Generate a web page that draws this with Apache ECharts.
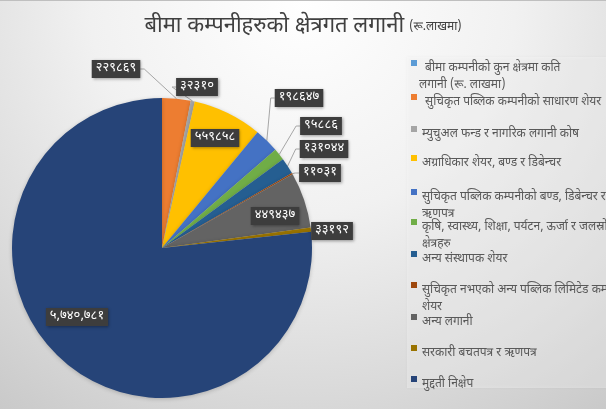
<!DOCTYPE html>
<html><head><meta charset="utf-8">
<script src="https://cdn.jsdelivr.net/npm/echarts@6/dist/echarts.min.js"></script>
<style>html,body{margin:0;padding:0;background:#fff;}#c{width:606px;height:409px;}</style>
</head><body><div id="c"></div>
<script>
// ---- data ----
const categories = [
  'बीमा कम्पनीको कुन क्षेत्रमा कति\nलगानी (रू. लाखमा)',
  'सुचिकृत पब्लिक कम्पनीको साधारण शेयर',
  'म्युचुअल फन्ड र नागरिक लगानी कोष',
  'अग्राधिकार शेयर, बण्ड र डिबेन्चर',
  'सुचिकृत पब्लिक कम्पनीको बण्ड, डिबेन्चर र\nऋणपत्र',
  'कृषि, स्वास्थ्य, शिक्षा, पर्यटन, ऊर्जा र जलस्रोत\nक्षेत्रहरु',
  'अन्य संस्थापक शेयर',
  'सुचिकृत नभएको अन्य पब्लिक लिमिटेड कम्पनीको\nशेयर',
  'अन्य लगानी',
  'सरकारी बचतपत्र र ऋणपत्र',
  'मुद्दती निक्षेप'
];
const values = [0, 229869, 32310, 559858, 198647, 95886, 131044, 11031, 449437, 33192, 5740781];
const titleMain = 'बीमा कम्पनीहरुको क्षेत्रगत लगानी';
const titleUnit = '(रू.लाखमा)';

// ---- styles / layout ----
const colors = ['#5B9BD5','#ED7D31','#A5A5A5','#FFC000','#4472C4','#70AD47','#255E91','#9E480E','#636363','#997300','#264478'];
const insideLabels = [3, 8, 10];
const labelAt = [null,[116,69],[197,87],[215,138],[299,98],[321,126],[324,149],[320,173],[275,216],[332,231],[77,317]];
const legendIconY = [63,97,129,158,192,222,254,285,317,348,379];
const FONT = "'Noto Sans Devanagari','Lohit Devanagari','Mukta','Noto Sans',sans-serif";
const L = 17;
const LEG_LEFT = 411;
const TXT_SHIFT = 6;   // legend text sits a little below its marker
const ICON_H = 6 + 2 * TXT_SHIFT;
const markerIcon = 'path://M0,0L6,0L6,6L0,6Z M0,' + ICON_H + 'L0.01,' + ICON_H;

const devDigits = '०१२३४५६७८९';
function toDev(v){
  let s = String(v);
  if (v >= 1000000) s = s.replace(/\B(?=(\d{3})+(?!\d))/g, ',');
  return s.replace(/\d/g, d => devDigits[+d]);
}

const chart = echarts.init(document.getElementById('c'), null, {renderer:'canvas'});

const legends = [];
const wrapTexts = [];
categories.forEach((name, i) => {
  const parts = name.split('\n');
  const pre = i < 2 ? ' ' : '';
  legends.push({
    data: [name],
    orient: 'vertical',
    left: LEG_LEFT,
    top: legendIconY[i] - 3,
    padding: 0,
    itemWidth: 6, itemHeight: ICON_H,
    icon: markerIcon,
    selectedMode: false,
    formatter: n => pre + n.split('\n')[0],
    textStyle: {fontSize: 12, color: '#595959', fontFamily: FONT, lineHeight: L}
  });
  if (parts.length > 1) {
    wrapTexts.push({
      type: 'text',
      x: LEG_LEFT + 11 - (pre ? 3 : 0),
      y: legendIconY[i] + TXT_SHIFT + L,
      style: {text: parts[1], fill: '#595959', fontSize: 12, fontFamily: FONT, verticalAlign: 'middle', align: 'left'}
    });
  }
});

const data = categories.map((name, i) => {
  const d = {name: name, value: values[i], itemStyle: {color: colors[i]}};
  if (i === 0) { d.label = {show:false}; d.labelLine = {show:false}; }
  else if (insideLabels.indexOf(i) >= 0) { d.label = {position:'inside'}; d.labelLine = {show:false}; }
  return d;
});

chart.setOption({
  backgroundColor: {
    type: 'radial', x: 0.5, y: 0, r: 1.3,
    colorStops: [
      {offset: 0, color: '#ffffff'},
      {offset: 0.4, color: '#f1f1f1'},
      {offset: 0.75, color: '#d9d9d9'},
      {offset: 1, color: '#c6c6c6'}
    ]
  },
  title: {
    text: '{a|' + titleMain + '} {b|' + titleUnit + '}',
    left: 'center', top: 12,
    textStyle: {
      rich: {
        a: {fontSize: 22, color: '#404040', fontFamily: FONT, fontWeight: 'normal'},
        b: {fontSize: 12, color: '#404040', fontFamily: FONT, fontWeight: 'normal'}
      }
    }
  },
  graphic: [
    {type:'rect', shape:{x:0,y:0,width:606,height:1}, style:{fill:'#bfbfbf'}, z:-1},
    {type:'rect', shape:{x:407,y:57,width:210,height:331}, style:{fill:'rgba(255,255,255,0.32)', shadowBlur:3, shadowColor:'rgba(0,0,0,0.12)'}, z:-1}
  ].concat(wrapTexts),
  legend: legends,
  series: [{
    type: 'pie',
    center: [162, 248],
    radius: 150,
    startAngle: 90,
    clockwise: true,
    avoidLabelOverlap: false,
    minAngle: 0,
    data: data,
    itemStyle: {borderWidth: 0, shadowBlur: 4, shadowColor: 'rgba(0,0,0,0.2)', shadowOffsetY: 1},
    emphasis: {disabled: true},
    label: {
      show: true,
      position: 'outside',
      formatter: p => toDev(p.value),
      color: '#ffffff',
      fontSize: 13,
      fontFamily: FONT,
      backgroundColor: '#3d3d3d',
      padding: [3, 4, 2, 4],
      shadowBlur: 3,
      shadowColor: 'rgba(0,0,0,0.4)',
      shadowOffsetX: 1,
      shadowOffsetY: 1
    },
    labelLine: {show: true, lineStyle: {color: '#a6a6a6', width: 1}, length: 10, length2: 10},
    labelLayout: function (p) {
      const pos = labelAt[p.dataIndex];
      if (!pos) return {};
      const w = p.labelRect.width;
      const res = {x: pos[0], y: pos[1], align: 'center', verticalAlign: 'middle'};
      const pts = p.labelLinePoints;
      if (pts && pts.length) {
        const p0 = pts[0];
        const right = pos[0] > p0[0];
        const ex = right ? pos[0] - w / 2 : pos[0] + w / 2;
        res.labelLinePoints = [[p0[0], p0[1]], [ex + (right ? -4 : 4), pos[1]], [ex, pos[1]]];
      }
      return res;
    }
  }]
});
</script>
</body></html>
